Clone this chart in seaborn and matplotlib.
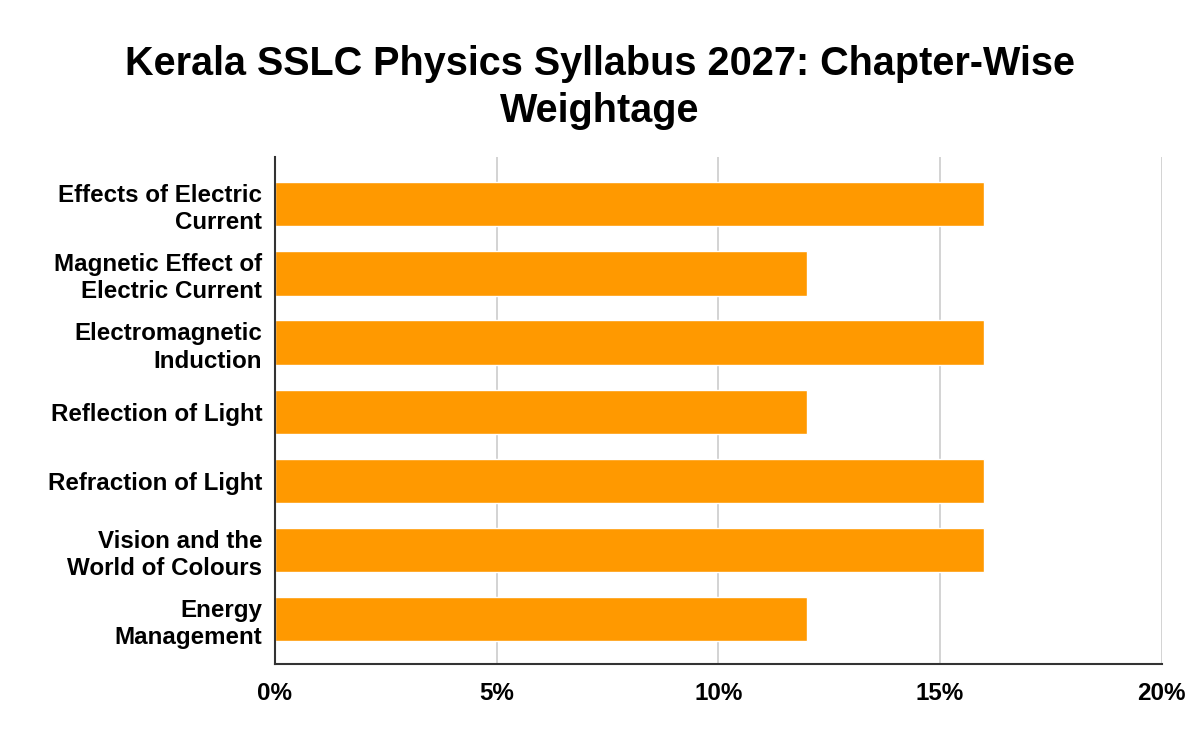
import matplotlib
matplotlib.use("Agg")
import matplotlib.pyplot as plt
import seaborn as sns
import pandas as pd
from matplotlib.ticker import FuncFormatter

chapters = [
    "Effects of Electric\nCurrent",
    "Magnetic Effect of\nElectric Current",
    "Electromagnetic\nInduction",
    "Reflection of Light",
    "Refraction of Light",
    "Vision and the\nWorld of Colours",
    "Energy\nManagement",
]
weightage = [16, 12, 16, 12, 16, 16, 12]
x_ticks = [0, 5, 10, 15, 20]

df = pd.DataFrame({"chapter": chapters, "weightage": weightage})

sns.set_style("white")
plt.rcParams['font.family'] = ['Liberation Sans', 'DejaVu Sans']

fig = plt.figure(figsize=(12, 7.42), dpi=100)
ax = fig.add_axes([0.229, 0.105, 0.739, 0.683])

sns.barplot(data=df, x="weightage", y="chapter", orient="h",
            color="#ff9900", saturation=1, width=0.64, ax=ax, zorder=2)

ax.set_xlim(0, 20)
ax.set_ylim(6.65, -0.68)
ax.set_xticks(x_ticks)
ax.xaxis.set_major_formatter(FuncFormatter(lambda v, p: f"{v:.0f}%"))
ax.grid(axis="x", color="#cccccc", linewidth=1.2, zorder=0)
ax.set_axisbelow(True)
ax.set_xlabel("")
ax.set_ylabel("")

for side in ["top", "right"]:
    ax.spines[side].set_visible(False)
for side in ["left", "bottom"]:
    ax.spines[side].set_color("#333333")
    ax.spines[side].set_linewidth(1.5)
    ax.spines[side].set_zorder(3)

ax.tick_params(axis="y", length=0, pad=9, labelsize=17.4)
ax.tick_params(axis="x", length=0, pad=13, labelsize=17.4)
for lbl in ax.get_yticklabels() + ax.get_xticklabels():
    lbl.set_fontweight("bold")
    lbl.set_color("#000000")
    lbl.set_linespacing(1.25)

fig.suptitle("Kerala SSLC Physics Syllabus 2027: Chapter-Wise\nWeightage",
             x=0.5, y=0.94, va="top", fontsize=28.5, fontweight="bold",
             color="#000000", linespacing=1.32)

fig.savefig("out.png", dpi=100)
